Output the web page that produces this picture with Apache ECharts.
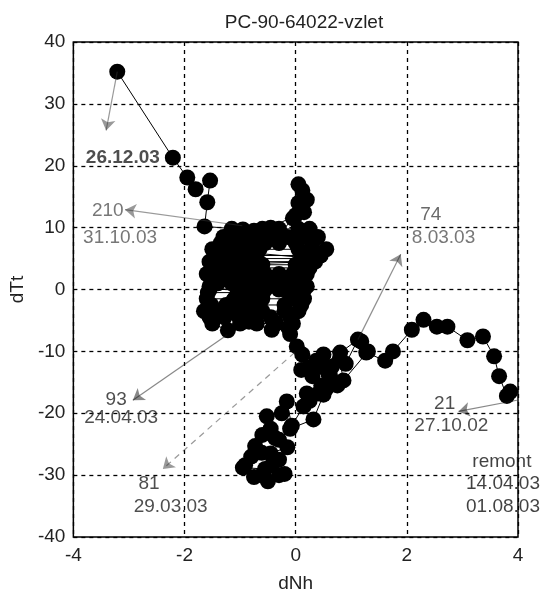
<!DOCTYPE html>
<html>
<head>
<meta charset="utf-8">
<script src="https://cdn.jsdelivr.net/npm/echarts@6/dist/echarts.min.js"></script>
<style>
html,body{margin:0;padding:0;background:#fff;}
#c{width:554px;height:598px;}
</style>
</head>
<body>
<div id="c"></div>
<script>
// trajectory data (dNh, dTt), in time order
const dNh = [
  3.86,3.80,3.66,3.57,3.37,3.09,2.73,2.54,2.30,2.09,1.75,1.61,1.27,1.18,
  1.30,0.86,0.79,0.59,0.37,0.50,0.23,0.10,0.30,0.46,0.75,0.55,0.41,0.20,0.25,0.14,-0.07,-0.16,-0.25,-0.52,-0.45,-0.37,-0.60,-0.73,-0.61,-0.80,-0.91,-0.95,-0.55,-0.61,-0.75,-0.50,-0.20,-0.30,-0.43,-0.30,-0.45,-0.15,-0.30,-0.10,0.32,0.50,0.62,0.65,0.90,1.12,
  0.80,0.45,0.12,0.02,-0.10,-0.13,-0.43,-0.84,-1.22,
  -1.50,-1.65,-1.40,-1.15,-0.90,-0.60,-0.20,0.05,-0.05,-0.35,-0.70,-1.00,
  -1.60,-1.10,-0.85,-0.60,-0.10,0.15,
  0.15,-0.05,-0.30,-0.55,-0.80,-1.05,-1.55,
  0.20,0.00,-0.25,-0.50,-0.75,-1.00,-1.55,
  -1.40,-1.15,-0.90,-0.65,-0.40,-0.15,0.10,
  -1.60,-1.35,-1.05,-0.80,-0.55,-0.30,-0.05,0.20,
  0.25,0.00,-0.60,-0.80,-1.00,-1.25,-1.50,
  0.35,0.10,-0.75,-1.00,-1.30,-1.55,
  -1.45,-1.20,-0.95,-0.70,0.10,0.35,
  -1.50,-1.20,-0.90,-0.65,0.05,0.30,0.55,
  0.40,0.15,-0.15,-0.40,-0.70,-1.00,-1.30,
  -1.15,-0.60,-0.30,0.05,0.25,
  0.30,0.00,-0.30,-0.55,-0.85,-1.10,-1.35,
  -1.35,-1.05,-0.78,0.20,0.45,
  0.25,-0.65,-0.90,-1.15,-1.45,
  -1.45,-1.20,-0.92,-0.65,-0.40,-0.15,0.10,
  0.12,-0.12,-0.62,-0.88,-1.58,
  -1.52,-1.25,-0.98,-0.72,-0.20,0.10,
  -0.10,-0.45,-0.75,-1.02,-1.28,-1.55,
  -0.05,0.15,0.05,0.20,0.12,0.05,0.00,-0.45,-0.75,-0.95,
  -1.64,-1.59,-1.54,-1.80,-1.95,-2.21,-3.21];
const dTt = [
  -16.5,-17.2,-14.0,-10.8,-7.6,-8.2,-6.0,-6.0,-4.9,-6.5,-10.0,-11.5,-10.2,-8.4,
  -10.0,-14.7,-11.3,-13.6,-11.5,-10.5,-12.6,-13.0,-14.0,-15.5,-15.5,-16.0,-16.8,-16.8,-18.0,-18.9,-22.0,-18.1,-20.0,-20.5,-22.5,-24.0,-23.5,-25.3,-26.4,-27.0,-28.4,-28.8,-29.0,-30.0,-30.3,-31.0,-29.8,-30.0,-28.4,-27.5,-26.5,-25.5,-24.3,-22.5,-21.0,-17.0,-14.0,-12.5,-12.0,-8.1,
  -10.2,-12.5,-10.5,-9.2,-7.2,-6.2,-6.5,-5.2,-6.6,
  -5.5,-3.5,-3.5,-3.5,-3.5,-3.5,-3.5,-3.5,-5.5,-5.5,-5.5,-5.5,
  -1.5,-1.5,-1.5,-1.5,-1.5,-1.5,
  0.0,0.0,0.0,0.0,0.0,0.0,0.0,
  0.5,0.5,0.5,0.5,0.5,0.5,0.5,
  1.0,1.0,1.0,1.0,1.0,1.0,1.0,
  2.5,2.5,2.5,2.5,2.5,2.5,2.5,2.5,
  4.0,4.0,4.0,4.0,4.0,4.0,4.0,
  4.5,4.5,4.5,4.5,4.5,4.5,
  5.0,5.0,5.0,5.0,5.0,5.0,
  6.5,6.5,6.5,6.5,6.5,6.5,6.5,
  8.5,8.5,8.5,8.5,8.5,8.5,8.5,
  9.8,9.8,9.8,9.8,9.8,
  7.5,7.5,7.5,7.5,7.5,7.5,7.5,
  5.5,5.5,5.5,5.5,5.5,
  3.5,3.5,3.5,3.5,3.5,
  1.5,1.5,1.5,1.5,1.5,1.5,1.5,
  -0.5,-0.5,-0.5,-0.5,-0.5,
  -2.5,-2.5,-2.5,-2.5,-2.5,-2.5,
  -4.5,-4.5,-4.5,-4.5,-4.5,-4.5,
  11.5,12.5,14.0,14.5,16.0,17.0,12.0,10.0,9.5,9.7,
  10.2,14.1,17.6,16.2,18.1,21.3,35.2];

// annotation arrows (data coordinates)
const arrowFrom = [[-3.21,35.2],[-0.96,10.3],[1.12,-8.1],[-1.23,-7.3],[-0.02,-10.2],[3.98,-17.9]];
const arrowTo   = [[-3.41,25.7],[-3.07,12.9],[1.89,5.7],[-2.93,-17.9],[-2.39,-29.0],[2.93,-19.7]];
const arrowDashed = [false,false,false,false,true,false];
const arrowColor = ['#333','#333','#222','#111','#333','#111'];

// annotation texts
const noteText = ['26.12.03','210','31.10.03','74','8.03.03','93','24.04.03','81','29.03.03','21','27.10.02','remont','14.04.03','01.08.03'];
const noteX = [-3.11,-3.38,-3.16,2.43,2.66,-3.23,-3.14,-2.64,-2.25,2.68,2.80,3.71,3.73,3.73];
const noteY = [21.3,12.7,8.4,12.1,8.4,-17.9,-20.8,-31.4,-35.1,-18.4,-22.1,-27.9,-31.4,-35.1];
const noteColor = ['#222','#555','#555','#444','#555','#222','#222','#222','#222','#222','#222','#111','#111','#111'];
const noteBold = [true,false,false,false,false,false,false,false,false,false,false,false,false,false];

const xTicks = [-4,-2,0,2,4];
const yTicks = [-40,-30,-20,-10,0,10,20,30,40];

const FONT = 'Liberation Sans, Arial, sans-serif';
const chart = echarts.init(document.getElementById('c'), null, {renderer:'canvas'});

const traj = dNh.map((x,i)=>[x,dTt[i]]);
const arrows = arrowFrom.map((f,i)=>({
  coords:[f,arrowTo[i]],
  lineStyle:{color:arrowColor[i], width:1.2, type: arrowDashed[i] ? [6,5] : 'solid'}
}));
const notes = noteText.map((t,i)=>({
  value:[noteX[i],noteY[i]],
  name:t,
  label:{show:true, position:'inside', formatter:t, color:noteColor[i],
    fontWeight: noteBold[i] ? 'bold' : 'normal', fontSize:19, fontFamily:FONT}
}));

const gridLine = {show:true, lineStyle:{color:'#000', type:[4,4], width:1.3}};
chart.setOption({
  animation:false,
  backgroundColor:'#fff',
  title:{text:'PC-90-64022-vzlet', left:299, top:8, textAlign:'center',
    textStyle:{fontSize:19, fontWeight:'normal', color:'#222', fontFamily:FONT}},
  grid:{left:70, right:36, top:42, bottom:52, show:true, borderColor:'#000', borderWidth:1.5, backgroundColor:'transparent'},
  xAxis:{type:'value', min:-4, max:4, interval:2, name:'dNh', nameLocation:'middle', nameGap:37,
    nameTextStyle:{fontSize:19, color:'#222', fontFamily:FONT},
    axisLine:{show:false}, axisTick:{show:false},
    axisLabel:{fontSize:19, color:'#222', margin:9, fontFamily:FONT},
    splitLine:gridLine},
  yAxis:{type:'value', min:-40, max:40, interval:10, name:'dTt', nameLocation:'middle', nameGap:44,
    nameTextStyle:{fontSize:19, color:'#222', fontFamily:FONT},
    axisLine:{show:false}, axisTick:{show:false},
    axisLabel:{fontSize:19, color:'#222', margin:8, fontFamily:FONT},
    splitLine:gridLine},
  series:[
    {type:'line', data:traj, symbol:'circle', symbolSize:16, showSymbol:true,
      lineStyle:{color:'#000', width:1}, itemStyle:{color:'#000', borderWidth:0}, z:3},
    {type:'lines', coordinateSystem:'cartesian2d', data:arrows, symbol:['none','arrow'], symbolSize:[0,11], z:4},
    {type:'scatter', data:notes, symbolSize:0, z:5}
  ]
});
</script>
</body>
</html>
